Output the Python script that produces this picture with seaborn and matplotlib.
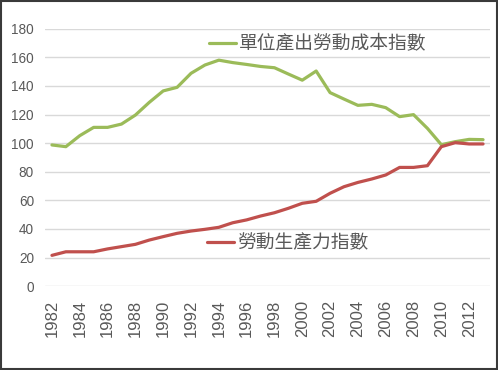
import matplotlib
matplotlib.use("Agg")
import matplotlib.pyplot as plt
import seaborn as sns
import pandas as pd
from matplotlib.patches import Rectangle
from matplotlib.lines import Line2D

years = list(range(1982, 2014))
unit_labor_cost = [98.7, 97.5, 105.2, 111.0, 111.0, 113.3, 119.6, 128.5, 136.5, 139.0,
                   148.8, 154.6, 158.0, 156.3, 155.0, 153.6, 152.7, 148.3, 144.0, 150.4,
                   135.3, 130.8, 126.4, 127.1, 124.8, 118.5, 119.9, 110.3, 98.9, 101.0,
                   102.6, 102.4]
labor_productivity = [21.5, 24.0, 24.0, 24.0, 26.0, 27.6, 29.2, 32.2, 34.6, 36.9,
                      38.5, 39.7, 41.1, 44.3, 46.3, 49.0, 51.3, 54.4, 57.9, 59.3,
                      64.9, 69.5, 72.5, 74.9, 77.7, 83.0, 83.0, 84.2, 97.5, 100.3,
                      99.4, 99.4]
series_names = ["單位產出勞動成本指數", "勞動生產力指數"]
colors = ["#9BBB59", "#C0504D"]
y_ticks = list(range(0, 181, 20))
x_ticks = list(range(1982, 2013, 2))

df = pd.DataFrame({
    "year": years * 2,
    "value": unit_labor_cost + labor_productivity,
    "series": [series_names[0]] * len(years) + [series_names[1]] * len(years),
})

sns.set_theme(style="white")
plt.rcParams["font.family"] = ["Liberation Sans", "Noto Sans CJK TC", "DejaVu Sans"]

fig = plt.figure(figsize=(4.98, 3.70), dpi=100)
ax = fig.add_axes([45 / 498, 1 - 286.1 / 370, 445 / 498, 257.4 / 370])

sns.lineplot(data=df, x="year", y="value", hue="series", palette=colors,
             hue_order=series_names, linewidth=2.3, ax=ax, legend=False)

ax.set_xlim(1981.5, 2013.5)
ax.set_ylim(0, 180)
ax.set_yticks(y_ticks)
ax.set_xticks(x_ticks)
ax.set_xticklabels([str(x) for x in x_ticks], rotation=90, fontsize=12, color="#595959")
ax.set_yticklabels([str(y) for y in y_ticks], fontsize=9.8, color="#595959")
ax.tick_params(axis="both", length=0)
ax.tick_params(axis="x", pad=10)
ax.tick_params(axis="y", pad=8)
ax.set_xlabel("")
ax.set_ylabel("")
for s in ax.spines.values():
    s.set_visible(False)
ax.grid(axis="y", color="#D9D9D9", linewidth=1)
ax.set_axisbelow(True)

cjk = ["Noto Sans CJK TC", "DejaVu Sans"]
h1 = Line2D([], [], color=colors[0], linewidth=2.3)
h2 = Line2D([], [], color=colors[1], linewidth=2.3)
leg1 = ax.legend([h1], [series_names[0]], loc="center left", bbox_to_anchor=(0.369, 0.94),
                 frameon=False, borderpad=0, borderaxespad=0, handlelength=1.45,
                 handletextpad=0.15, prop={"family": cjk, "size": 13.5})
for t in leg1.get_texts():
    t.set_color("#595959")
ax.add_artist(leg1)
leg2 = ax.legend([h2], [series_names[1]], loc="center left", bbox_to_anchor=(0.364, 0.167),
                 frameon=False, borderpad=0, borderaxespad=0, handlelength=1.45,
                 handletextpad=0.15, prop={"family": cjk, "size": 13.5})
for t in leg2.get_texts():
    t.set_color("#595959")

fig.patches.append(Rectangle((0.002, 0.003), 0.995, 0.994, transform=fig.transFigure,
                             fill=False, edgecolor="#3A3A3A", linewidth=1.5))

fig.savefig("out.png", dpi=100)
